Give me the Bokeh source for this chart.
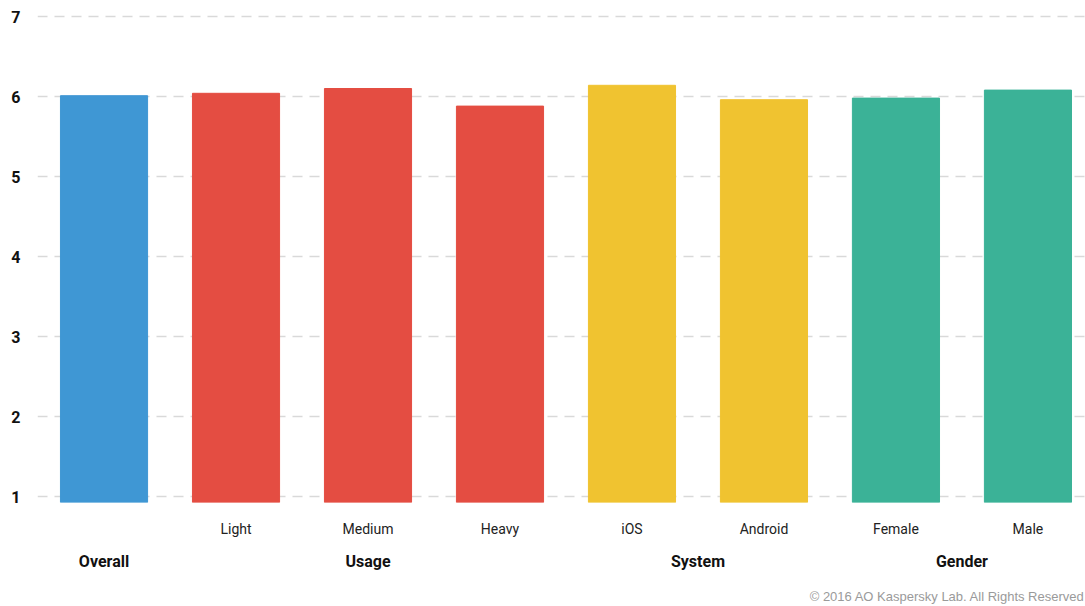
from bokeh.plotting import figure
from bokeh.models import ColumnDataSource, Range1d, FixedTicker, LinearAxis
from bokeh.embed import file_html
from bokeh.resources import INLINE

# ---- data ----
labels = ["", "Light", "Medium", "Heavy", "iOS", "Android", "Female", "Male"]
values = [6.01, 6.04, 6.10, 5.88, 6.14, 5.96, 5.98, 6.08]
colors = ["#3f97d4", "#e44d42", "#e44d42", "#e44d42", "#f0c330", "#f0c330", "#3bb297", "#3bb297"]
groups = ["Overall", "Usage", "System", "Gender"]
group_pos = [0, 2, 4.5, 6.5]
y_ticks = [1, 2, 3, 4, 5, 6, 7]
credit = "\u00a9 2016 AO Kaspersky Lab. All Rights Reserved"
credit_pos = 6.39

FONT = "Roboto"

xs = list(range(len(values)))
src = ColumnDataSource(dict(x=xs, top=values, color=colors))

p = figure(width=1085, height=606, output_backend="svg", toolbar_location=None,
           x_range=Range1d(-0.504, 7.436), y_range=Range1d(0.925, 7.2),
           min_border_left=37, min_border_right=0, min_border_top=0, min_border_bottom=104,
           x_axis_location=None)
p.outline_line_color = None
p.background_fill_color = "white"
p.border_fill_color = "white"

p.vbar(x="x", top="top", bottom=0, width=0.66, color="color", source=src)

# y axis
ya = p.yaxis[0]
ya.ticker = FixedTicker(ticks=y_ticks)
ya.axis_line_color = None
ya.major_tick_line_color = None
ya.minor_tick_line_color = None
ya.major_tick_out = 0
ya.major_label_text_font = FONT
ya.major_label_text_font_style = "bold"
ya.major_label_text_font_size = "16px"
ya.major_label_text_color = "#111111"
ya.major_label_standoff = 17

p.xgrid.visible = False
p.ygrid.ticker = FixedTicker(ticks=y_ticks)
p.ygrid.grid_line_color = "#d9d9d9"
p.ygrid.grid_line_dash = "10 7"
p.ygrid.grid_line_width = 1.5
p.ygrid.level = "image"


def plain_axis(ticks, overrides, size, style, color, standoff, font=FONT):
    ax = LinearAxis(ticker=FixedTicker(ticks=ticks), major_label_overrides=overrides)
    ax.axis_line_color = None
    ax.major_tick_line_color = None
    ax.minor_tick_line_color = None
    ax.major_tick_out = 0
    ax.major_tick_in = 0
    ax.major_label_text_font = font
    ax.major_label_text_font_size = size
    ax.major_label_text_font_style = style
    ax.major_label_text_color = color
    ax.major_label_standoff = standoff
    return ax


# sub-category axis
ax1 = plain_axis(xs, {i: l for i, l in enumerate(labels)}, "14px", "normal", "#222222", 18)
p.add_layout(ax1, "below")

# group axis
ax2 = plain_axis(group_pos, {gp: g for gp, g in zip(group_pos, groups)},
                 "16px", "bold", "#111111", 12)
p.add_layout(ax2, "below")

# credit line
ax3 = plain_axis([credit_pos], {credit_pos: credit}, "13px", "normal", "#9a9a9a", 15,
                 font="Liberation Sans")
p.add_layout(ax3, "below")

open("out.html", "w").write(file_html(p, INLINE))
